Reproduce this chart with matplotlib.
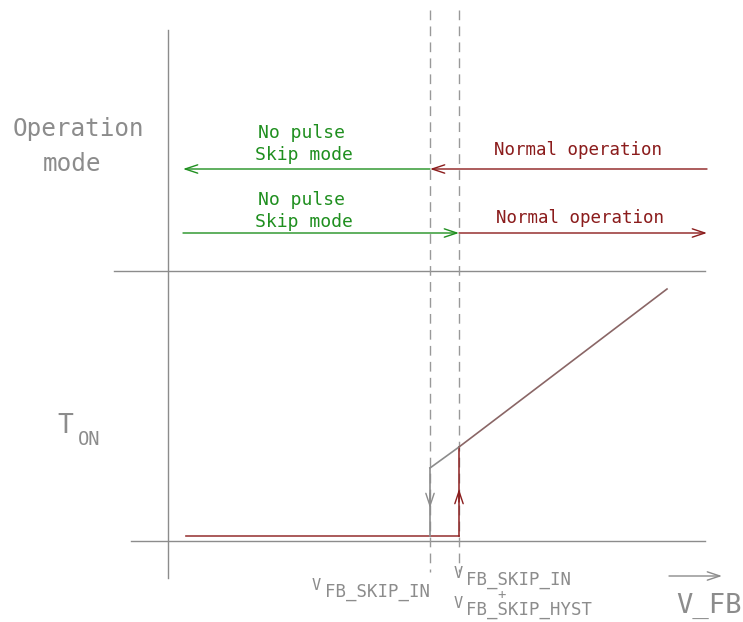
import matplotlib
matplotlib.use("Agg")
import matplotlib.pyplot as plt

# ---- data (diagram coordinates, pixel-like units, y grows downward) ----
v_skip_in = 430          # V_FB_SKIP_IN threshold
v_skip_hyst = 459        # V_FB_SKIP_IN + V_FB_SKIP_HYST threshold
x_left = 183             # left end of mode arrows
x_right = 707            # right end of mode arrows
mode_rows = [169, 233]   # falling row, rising row
ton_low = 536            # T_ON level in skip mode
ton_start = 186
ton_ramp_x = [430, 459, 667]
ton_ramp_y = [468, 447, 289]
axis_x = 168
divider_y = 271
baseline_y = 541

labels_green = ["No pulse", "Skip mode"]
label_red = "Normal operation"

GRAY = "#8c8c8c"
DGRAY = "#999999"
GREEN = "#1f8f1f"
RED = "#8b1c1c"
BROWN = "#8a6666"
MONO = "DejaVu Sans Mono"

fig = plt.figure(figsize=(7.43, 6.22), dpi=100)
ax = fig.add_axes([0, 0, 1, 1])
ax.set_xlim(0, 743)
ax.set_ylim(622, 0)
ax.axis("off")

lw = 1.0
# axes lines
ax.plot([axis_x, axis_x], [30, 578], color=GRAY, lw=lw)
ax.plot([114, 705], [divider_y, divider_y], color=GRAY, lw=lw)
ax.plot([131, 705], [baseline_y, baseline_y], color=GRAY, lw=lw)

# dashed thresholds
for xv in (v_skip_in, v_skip_hyst):
    ax.plot([xv, xv], [10, 572], color=DGRAY, lw=1.0, ls=(0, (7, 4.5)))

def arrow(x0, y0, x1, y1, color):
    ax.annotate("", xy=(x1, y1), xytext=(x0, y0),
                arrowprops=dict(arrowstyle="->,head_length=0.9,head_width=0.3",
                                color=color, lw=lw, shrinkA=0, shrinkB=0))

# falling row
yf, yr = mode_rows
arrow(v_skip_in, yf, x_left, yf, GREEN)
arrow(x_right, yf, v_skip_in, yf, RED)
# rising row
arrow(x_left, yr, v_skip_hyst, yr, GREEN)
arrow(v_skip_hyst, yr, x_right, yr, RED)

gfs = 13
rfs = 12.6
ax.text(301, 133, labels_green[0], color=GREEN, fontsize=gfs, family=MONO, ha="center", va="center")
ax.text(304, 155, labels_green[1], color=GREEN, fontsize=gfs, family=MONO, ha="center", va="center")
ax.text(578, 150, label_red, color=RED, fontsize=rfs, family=MONO, ha="center", va="center")
ax.text(301, 200, labels_green[0], color=GREEN, fontsize=gfs, family=MONO, ha="center", va="center")
ax.text(304, 222, labels_green[1], color=GREEN, fontsize=gfs, family=MONO, ha="center", va="center")
ax.text(580, 218, label_red, color=RED, fontsize=rfs, family=MONO, ha="center", va="center")

# T_ON curve
ax.plot([ton_start, v_skip_hyst], [ton_low, ton_low], color=RED, lw=1.2, alpha=0.85)
ax.plot([v_skip_hyst, v_skip_hyst], [ton_low, ton_ramp_y[1]], color=RED, lw=1.2, alpha=0.9)
ax.plot([v_skip_in, v_skip_in], [ton_low, ton_ramp_y[0]], color=GRAY, lw=1.2)
ax.plot(ton_ramp_x[:2], ton_ramp_y[:2], color=GRAY, lw=1.2)
ax.plot(ton_ramp_x[1:], ton_ramp_y[1:], color=BROWN, lw=1.2)
arrow(v_skip_hyst, 502, v_skip_hyst, 489, RED)
arrow(v_skip_in, 493, v_skip_in, 508, GRAY)

# left labels
ax.text(78, 129, "Operation", color=GRAY, fontsize=17.5, family=MONO, ha="center", va="center")
ax.text(72, 164, "mode", color=GRAY, fontsize=17.5, family=MONO, ha="center", va="center")
ax.text(57, 433, "T", color=GRAY, fontsize=19, family=MONO, ha="left", va="baseline")
ax.text(78, 445, "ON", color=GRAY, fontsize=13.5, family=MONO, ha="left", va="baseline")

# bottom labels
bfs = 12.5
vfs = 11
ax.text(312, 590, "V", color=GRAY, fontsize=vfs, family=MONO, ha="left", va="baseline")
ax.text(325, 597, "FB_SKIP_IN", color=GRAY, fontsize=bfs, family=MONO, ha="left", va="baseline")
ax.text(454, 578, "V", color=GRAY, fontsize=vfs, family=MONO, ha="left", va="baseline")
ax.text(466, 585, "FB_SKIP_IN", color=GRAY, fontsize=bfs, family=MONO, ha="left", va="baseline")
ax.text(502, 595, "+", color=GRAY, fontsize=10, family=MONO, ha="center", va="center")
ax.text(454, 608, "V", color=GRAY, fontsize=vfs, family=MONO, ha="left", va="baseline")
ax.text(466, 615, "FB_SKIP_HYST", color=GRAY, fontsize=bfs, family=MONO, ha="left", va="baseline")

arrow(669, 576, 722, 576, GRAY)
ax.text(709, 613, "V_FB", color=GRAY, fontsize=19.5, family=MONO, ha="center", va="baseline")

fig.savefig("out.png", dpi=100, facecolor="white")
